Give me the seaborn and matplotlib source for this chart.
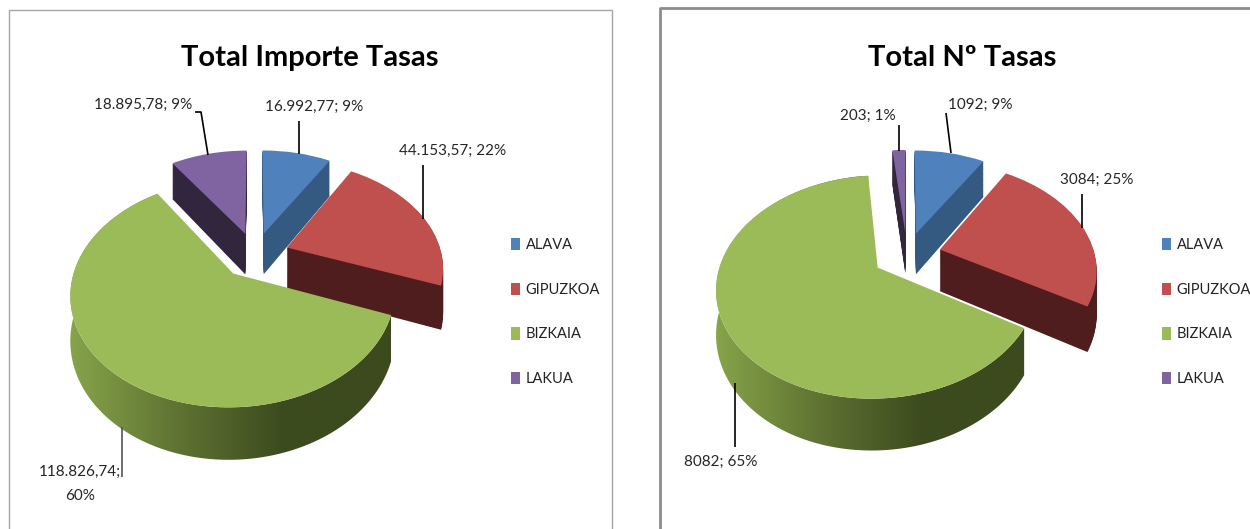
import numpy as np
import matplotlib
matplotlib.use("Agg")
import matplotlib.pyplot as plt
import seaborn as sns
from matplotlib.colors import LinearSegmentedColormap
from matplotlib.patches import Polygon
from matplotlib.transforms import Transform

categories = ["ALAVA", "GIPUZKOA", "BIZKAIA", "LAKUA"]
importe_values = [16992.77, 44153.57, 118826.74, 18895.78]
importe_labels = ["16.992,77; 9%", "44.153,57; 22%", "118.826,74;\n60%", "18.895,78; 9%"]
tasas_values = [1092, 3084, 8082, 203]
tasas_labels = ["1092; 9%", "3084; 25%", "8082; 65%", "203; 1%"]

top_colors = sns.color_palette(["#4F81BD", "#C0504D", "#9BBB59", "#8064A2"])
wall_colors = sns.color_palette(["#355A82", "#4F1D1D", "#3C4B1E", "#32263F"])
green_wall = LinearSegmentedColormap.from_list("wall", ["#86A44A", "#5F7332", "#3C4B1E", "#3C4B1E"])

sns.set_theme(style="white")
plt.rcParams["font.family"] = ["Lato", "DejaVu Sans"]

# shape of the fake 3D view, in pixels
RX, RY, PERSP, DEPTH = 155, 104, 0.17, 42
EXPLODE = 0.22
LABEL_SIZE = 11


class View(Transform):
    # unit pie -> picture pixels, the front of the pie gets bigger
    input_dims = output_dims = 2
    is_separable = False

    def __init__(self, cx, cy, z=0):
        super().__init__()
        self.cx, self.cy, self.z = cx, cy, z

    def transform_non_affine(self, xy):
        xy = np.asarray(xy, dtype=float)
        s = 1 / (1 + PERSP * xy[:, 1])
        return np.column_stack([self.cx + RX * xy[:, 0] * s,
                                self.cy + (self.z - RY * xy[:, 1]) * s])


def one_pie(ax, values, colors):
    wedges, _ = ax.pie(values, colors=colors, startangle=90, counterclock=False,
                       explode=[EXPLODE] * len(values), wedgeprops={"linewidth": 0})
    return wedges


def draw_pie(ax, values, cx, cy):
    # painted from the bottom up, the green slice goes last
    for z in range(DEPTH, 0, -1):
        wedges = one_pie(ax, values, wall_colors)
        wedges[2].remove()
        for i, w in enumerate(wedges):
            if i != 2:
                w.set_transform(View(cx, cy, z) + ax.transData)
                w.set_zorder(i * 2 + 1 if i != 3 else 0.5)

    top = one_pie(ax, values, top_colors)
    for i, w in enumerate(top):
        w.set_transform(View(cx, cy) + ax.transData)
        w.set_zorder(i * 2 + 2 if i != 3 else 0.6)

    # outer wall of the big slice with its gradient
    g = top[2]
    ang = np.radians(np.linspace(g.theta1, g.theta2, 200))
    arc = np.column_stack([g.center[0] + g.r * np.cos(ang), g.center[1] + g.r * np.sin(ang)])
    upper = View(cx, cy).transform(arc)
    lower = View(cx, cy, DEPTH).transform(arc)
    outline = np.vstack([upper, lower[::-1]])
    im = ax.imshow(np.linspace(0, 1, 256)[None, :], cmap=green_wall, aspect="auto",
                   extent=[outline[:, 0].min(), outline[:, 0].max(),
                           outline[:, 1].max(), outline[:, 1].min()], zorder=5)
    im.set_clip_path(Polygon(outline, transform=ax.transData))
    return top


def leader(ax, xs, ys, color="black"):
    ax.plot(xs, ys, color=color, lw=1.2, zorder=10, solid_capstyle="butt")


def finish(ax, x0, x1, title, title_x, wedges, legend_x):
    ax.set_xlim(x0, x1)
    ax.set_ylim(529, 0)
    ax.set_aspect("auto")
    ax.set_axis_off()
    ax.text(title_x, 58, title, ha="center", va="center", fontsize=21, fontweight="bold", color="black")
    ax.legend(wedges, categories, loc="upper left", bbox_to_anchor=(legend_x, 238),
              bbox_transform=ax.transData, frameon=False, fontsize=10.5, labelspacing=2.1,
              handlelength=0.65, handleheight=0.9, handletextpad=0.35, borderpad=0, borderaxespad=0,
              labelcolor="#222222")


fig = plt.figure(figsize=(12.5, 5.29), dpi=100, facecolor="white")
left = fig.add_axes([0, 0, 0.5, 1])
right = fig.add_axes([0.5, 0, 0.5, 1])

# left chart
wedges = draw_pie(left, importe_values, 255, 255)
left.plot([8.5, 8.5, 612, 612], [529, 9.5, 9.5, 529], color="#A6A6A6", lw=1)
leader(left, [299, 299], [121, 154])
leader(left, [423, 423], [165, 219])
leader(left, [122, 122], [427, 477], "#555555")
leader(left, [195, 201, 208], [112, 112, 155])
left.text(314, 107, importe_labels[0], ha="center", va="center", fontsize=LABEL_SIZE)
left.text(453, 151, importe_labels[1], ha="center", va="center", fontsize=LABEL_SIZE)
left.text(80, 484, importe_labels[2], ha="center", va="center", fontsize=LABEL_SIZE, linespacing=1.9)
left.text(143, 105, importe_labels[3], ha="center", va="center", fontsize=LABEL_SIZE)
finish(left, 0, 625, "Total Importe Tasas", 310, wedges, 511)

# right chart
wedges = draw_pie(right, tasas_values, 907, 255)
right.plot([660, 660, 1250], [529, 8, 8], color="#8C8C8C", lw=2)
leader(right, [946, 951], [113, 153])
leader(right, [1082, 1082], [194, 228])
leader(right, [735, 735], [383, 447])
leader(right, [899, 899], [125, 151])
right.text(980, 105, tasas_labels[0], ha="center", va="center", fontsize=LABEL_SIZE)
right.text(1097, 180, tasas_labels[1], ha="center", va="center", fontsize=LABEL_SIZE)
right.text(721, 462, tasas_labels[2], ha="center", va="center", fontsize=LABEL_SIZE)
right.text(868, 116, tasas_labels[3], ha="center", va="center", fontsize=LABEL_SIZE)
finish(right, 625, 1250, "Total Nº Tasas", 962, wedges, 1162)

fig.savefig("out.png", dpi=100)
